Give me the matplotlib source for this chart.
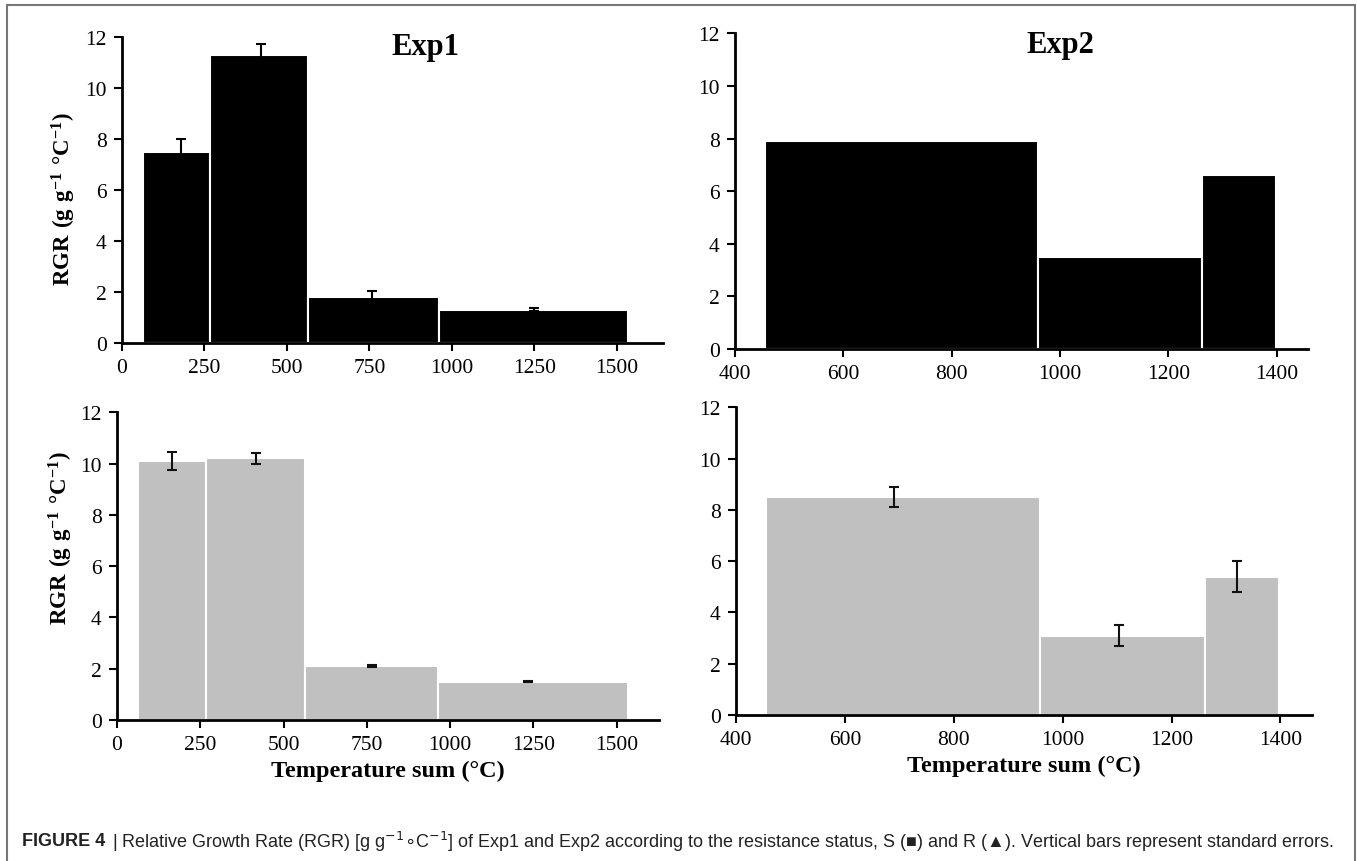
import numpy as np
import matplotlib.pyplot as plt
from matplotlib.patches import Rectangle

plt.rcParams['font.family'] = ['Liberation Serif', 'DejaVu Serif']
plt.rcParams['mathtext.fontset'] = 'custom'
plt.rcParams['mathtext.rm'] = 'Liberation Serif'
plt.rcParams['mathtext.bf'] = 'Liberation Serif:bold'

# Exp1: interval edges of temperature sum (°C)
exp1_edges = [63, 268, 563, 962, 1535]
exp1_s = [7.5, 11.3, 1.8, 1.3]
exp1_s_err = [0.5, 0.4, 0.25, 0.05]
exp1_s_errx = [180, 421, 757, 1250]
exp1_r = [10.1, 10.2, 2.1, 1.5]
exp1_r_err = [0.36, 0.2, 0.05, 0.03]
exp1_r_errx = [165, 417, 766, 1234]

# Exp2
exp2_edges = [455, 959, 1262, 1398]
exp2_s = [7.9, 3.5, 6.6]
exp2_r = [8.5, 3.1, 5.4]
exp2_r_err = [0.38, 0.42, 0.6]
exp2_r_errx = [690, 1103, 1321]

black = '#000000'
grey = '#c0c0c0'


def bars(ax, edges, vals, color):
    left = np.array(edges[:-1])
    width = np.diff(edges)
    ax.bar(left, vals, width=width, align='edge', color=color,
           edgecolor='white', linewidth=1.5, zorder=2)


def style(ax, xlim, xticks):
    for s in ['top', 'right']:
        ax.spines[s].set_visible(False)
    for s in ['left', 'bottom']:
        ax.spines[s].set_linewidth(2)
        ax.spines[s].set_zorder(3)
    ax.set_ylim(0, 12)
    ax.set_yticks(range(0, 13, 2))
    ax.set_xlim(*xlim)
    ax.set_xticks(xticks)
    ax.tick_params(direction='out', length=6, width=1.5, labelsize=15.5,
                   pad=5)


fig = plt.figure(figsize=(13.57, 8.62), dpi=100)

ylab = r'$\mathbf{RGR\ (g\ g^{-1}\ °C^{-1})}$'
xlab = 'Temperature sum (°C)'

# top left
ax1 = fig.add_axes([0.0899, 0.601, 0.3987, 0.3553])
bars(ax1, exp1_edges, exp1_s, black)
ax1.errorbar(exp1_s_errx, exp1_s, yerr=exp1_s_err, fmt='none', ecolor=black,
             elinewidth=1.5, capsize=3.5, capthick=1.5, zorder=4)
style(ax1, (0, 1640), range(0, 1501, 250))
ax1.set_ylabel(ylab, fontsize=16.5)
ax1.yaxis.set_label_coords(-0.082, 0.473)
ax1.text(425 / 1357, 1 - 48 / 862, 'Exp1', transform=fig.transFigure,
         fontsize=22, fontweight='bold', ha='center', va='center')

# top right
ax2 = fig.add_axes([0.5416, 0.594, 0.4223, 0.366])
bars(ax2, exp2_edges, exp2_s, black)
style(ax2, (400, 1458), range(400, 1401, 200))
ax2.text(1060 / 1357, 1 - 46 / 862, 'Exp2', transform=fig.transFigure,
         fontsize=22, fontweight='bold', ha='center', va='center')

# bottom left
ax3 = fig.add_axes([0.0862, 0.1636, 0.3995, 0.3569])
bars(ax3, exp1_edges, exp1_r, grey)
ax3.errorbar(exp1_r_errx, exp1_r, yerr=exp1_r_err, fmt='none', ecolor='#111111',
             elinewidth=1.5, capsize=3.5, capthick=1.5, zorder=4)
style(ax3, (0, 1627), range(0, 1501, 250))
ax3.set_ylabel(ylab, fontsize=16.5)
ax3.yaxis.set_label_coords(-0.077, 0.595)
ax3.set_xlabel(xlab, fontsize=17.5, fontweight='bold', labelpad=4)

# bottom right
ax4 = fig.add_axes([0.5424, 0.1694, 0.4248, 0.3569])
bars(ax4, exp2_edges, exp2_r, grey)
ax4.errorbar(exp2_r_errx, exp2_r, yerr=exp2_r_err, fmt='none', ecolor='#111111',
             elinewidth=1.5, capsize=3.5, capthick=1.5, zorder=4)
style(ax4, (400, 1459), range(400, 1401, 200))
ax4.set_xlabel(xlab, fontsize=17.5, fontweight='bold', labelpad=4)

# outer frame
fig.patches.append(Rectangle((7 / 1357, -0.05), 1348 / 1357, 1.05 - 6 / 862,
                             transform=fig.transFigure, fill=False,
                             edgecolor='#777777', linewidth=1.5))

# caption
sans = ['Liberation Sans', 'DejaVu Sans']
t = fig.text(22 / 1357, 1 - 842 / 862, 'FIGURE 4 ', fontsize=13,
             fontweight='bold', family=sans, color='#222222',
             va='center', ha='left')
fig.canvas.draw()
bb = t.get_window_extent()
cap = (r'| Relative Growth Rate (RGR) [g g$^{-1}$$\circ$C$^{-1}$] of Exp1 and Exp2 '
       'according to the resistance status, S (■) and R (▲). '
       'Vertical bars represent standard errors.')
fig.text((bb.x1 + 2) / 1357, 1 - 842 / 862, cap, fontsize=13, family=sans,
         color='#222222', va='center', ha='left', math_fontfamily='dejavusans')

fig.savefig('out.png', dpi=100)
